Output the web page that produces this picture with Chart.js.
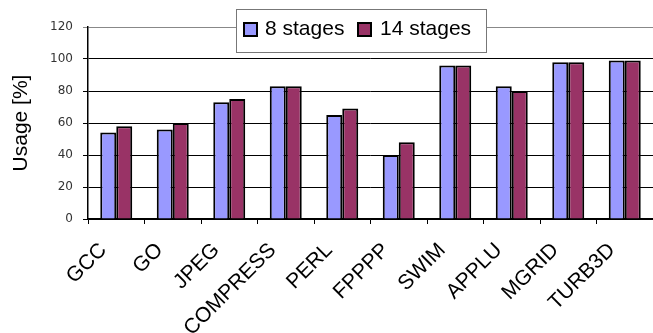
<!DOCTYPE html>
<html>
<head>
<meta charset="utf-8">
<script src="https://cdn.jsdelivr.net/npm/chart.js@4/dist/chart.umd.min.js"></script>
<style>
  html, body { margin: 0; padding: 0; background: #fff; }
  #wrap { width: 653px; height: 333px; position: relative; }
</style>
</head>
<body>
<div id="wrap"><canvas id="c" width="653" height="333"></canvas></div>
<script>
const benchmarks = ['GCC', 'GO', 'JPEG', 'COMPRESS', 'PERL', 'FPPPP', 'SWIM', 'APPLU', 'MGRID', 'TURB3D'];
const stages8 = [54, 56, 73, 83, 65, 40, 96, 83, 98, 99];
const stages14 = [58, 60, 75, 83, 69, 48, 96, 80, 98, 99];
const seriesNames = ['8 stages', '14 stages'];
const yTicks = [0, 20, 40, 60, 80, 100, 120];

const FONT = '"Liberation Sans", Arial, sans-serif';

// Boxed legend drawn over the top of the plot
const boxLegend = {
  id: 'boxLegend',
  afterDraw(chart) {
    const ctx = chart.ctx;
    const x0 = 236, y0 = 9, w = 250, h = 43;
    ctx.save();
    ctx.fillStyle = '#fff';
    ctx.fillRect(x0, y0, w, h);
    ctx.strokeStyle = '#777';
    ctx.lineWidth = 1;
    ctx.strokeRect(x0 + 0.5, y0 + 0.5, w, h);
    const items = [{ sx: 244, tx: 265 }, { sx: 358, tx: 380 }];
    ctx.font = '21px ' + FONT;
    ctx.textBaseline = 'middle';
    chart.data.datasets.forEach((ds, i) => {
      const it = items[i];
      ctx.fillStyle = ds.backgroundColor;
      ctx.fillRect(it.sx, 23, 13, 13);
      ctx.strokeStyle = '#000';
      ctx.lineWidth = 2;
      ctx.strokeRect(it.sx, 23, 13, 13);
      ctx.fillStyle = '#000';
      ctx.fillText(ds.label, it.tx, 29);
    });
    ctx.restore();
  }
};

new Chart(document.getElementById('c'), {
  type: 'bar',
  data: {
    labels: benchmarks,
    datasets: [
      { label: seriesNames[0], data: stages8, backgroundColor: '#9999FF', borderColor: '#000', borderWidth: 2 },
      { label: seriesNames[1], data: stages14, backgroundColor: '#993366', borderColor: '#000', borderWidth: 2 }
    ]
  },
  options: {
    responsive: false,
    animation: false,
    devicePixelRatio: 1,
    layout: { padding: { top: 27, right: 0, left: 0, bottom: 0 } },
    datasets: { bar: { categoryPercentage: 0.566, barPercentage: 1 } },
    plugins: {
      legend: { display: false },
      tooltip: { enabled: false }
    },
    scales: {
      x: {
        afterFit(scale) {
          scale.height = 114;
          scale.paddingLeft = 0;
          scale.paddingRight = 0;
        },
        grid: { offset: true, drawOnChartArea: false, color: '#000', tickLength: 5, lineWidth: 1 },
        border: { color: '#000', width: 1.5 },
        ticks: {
          minRotation: 45, maxRotation: 45, autoSkip: false,
          color: '#000', font: { family: FONT, size: 21 }, padding: 14, labelOffset: -13
        }
      },
      y: {
        min: 0, max: 120,
        afterFit(scale) { scale.width = 88; },
        afterBuildTicks(scale) { scale.ticks = yTicks.map(v => ({ value: v })); },
        grid: {
          color: ctx => ctx.tick && ctx.tick.value === 120 ? '#888' : '#000',
          lineWidth: 1, tickLength: 5
        },
        border: { color: '#000', width: 1.5 },
        ticks: { color: '#333', font: { family: '"DejaVu Sans", sans-serif', size: 12 }, padding: 10 },
        title: { display: true, text: 'Usage [%]', color: '#000', font: { family: FONT, size: 21 }, padding: { top: 9, bottom: 0 } }
      }
    }
  },
  plugins: [boxLegend]
});
</script>
</body>
</html>
